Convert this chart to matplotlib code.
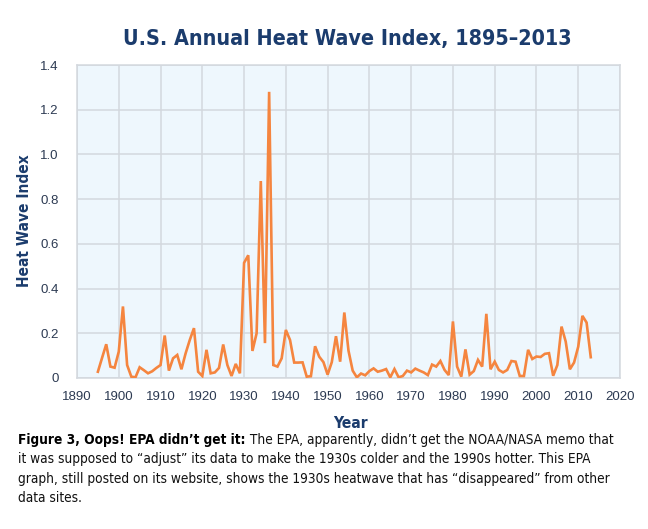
import matplotlib
matplotlib.use("Agg")
import matplotlib.pyplot as plt
from matplotlib import font_manager as fm

years = list(range(1895, 2014))
heat_wave_index = [
    0.028, 0.090, 0.151, 0.051, 0.046,            # 1895-1899
    0.118, 0.320, 0.058, 0.006, 0.003,            # 1900-1904
    0.048, 0.035, 0.021, 0.030, 0.045,            # 1905-1909
    0.058, 0.190, 0.033, 0.088, 0.103,            # 1910-1914
    0.039, 0.110, 0.170, 0.223, 0.028,            # 1915-1919
    0.009, 0.126, 0.021, 0.025, 0.045,            # 1920-1924
    0.150, 0.058, 0.009, 0.063, 0.021,            # 1925-1929
    0.515, 0.549, 0.121, 0.200, 0.881,            # 1930-1934
    0.156, 1.280, 0.058, 0.051, 0.088,            # 1935-1939
    0.215, 0.170, 0.069, 0.069, 0.070,            # 1940-1944
    0.006, 0.008, 0.142, 0.095, 0.071,            # 1945-1949
    0.015, 0.071, 0.187, 0.073, 0.293,            # 1950-1954
    0.122, 0.033, 0.003, 0.020, 0.012,            # 1955-1959
    0.031, 0.043, 0.028, 0.033, 0.040,            # 1960-1964
    0.003, 0.040, 0.003, 0.009, 0.033,            # 1965-1969
    0.025, 0.042, 0.033, 0.025, 0.013,            # 1970-1974
    0.060, 0.051, 0.076, 0.036, 0.013,            # 1975-1979
    0.253, 0.051, 0.006, 0.128, 0.015,            # 1980-1984
    0.031, 0.081, 0.051, 0.287, 0.039,            # 1985-1989
    0.073, 0.036, 0.025, 0.036, 0.076,            # 1990-1994
    0.073, 0.009, 0.009, 0.126, 0.085,            # 1995-1999
    0.096, 0.094, 0.108, 0.111, 0.010,            # 2000-2004
    0.058, 0.230, 0.163, 0.039, 0.069,            # 2005-2009
    0.140, 0.278, 0.248, 0.093,                   # 2010-2013
]
x_ticks = list(range(1890, 2021, 10))
y_ticks = [0, 0.2, 0.4, 0.6, 0.8, 1.0, 1.2, 1.4]
y_tick_labels = ["0", "0.2", "0.4", "0.6", "0.8", "1.0", "1.2", "1.4"]

title = "U.S. Annual Heat Wave Index, 1895\u20132013"
caption_bold = "Figure 3, Oops! EPA didn\u2019t get it:"
caption_rest_first = " The EPA, apparently, didn\u2019t get the NOAA/NASA memo that"
caption_lines = [
    "it was supposed to \u201cadjust\u201d its data to make the 1930s colder and the 1990s hotter. This EPA",
    "graph, still posted on its website, shows the 1930s heatwave that has \u201cdisappeared\u201d from other",
    "data sites.",
]

# pick a condensed face if one is installed
cond = None
for f in fm.fontManager.ttflist:
    if ("Narrow" in f.name or "Condensed" in f.name or
            (isinstance(f.stretch, str) and "condensed" in f.stretch) or
            (isinstance(f.stretch, int) and f.stretch < 500)):
        cond = f.name
        break
if cond:
    caption_family = [cond, "Liberation Sans", "DejaVu Sans"]
    stretch = "condensed"
else:
    caption_family = ["Liberation Sans", "DejaVu Sans"]
    stretch = "normal"

navy = "#1b3c6d"
tick_color = "#2c3a52"

W, H = 648, 529
fig = plt.figure(figsize=(W / 100, H / 100), dpi=100)
fig.patch.set_facecolor("white")
ax = fig.add_axes([77 / W, 1 - 378 / H, (620 - 77) / W, (378 - 65) / H])
ax.set_facecolor("#eef7fd")

ax.plot(years, heat_wave_index, color="#f5853f", lw=1.9, solid_joinstyle="miter", zorder=3)

ax.set_xlim(1890, 2020)
ax.set_ylim(0, 1.4)
ax.set_xticks(x_ticks)
ax.set_xticklabels([str(t) for t in x_ticks])
ax.set_yticks(y_ticks)
ax.set_yticklabels(y_tick_labels)
ax.grid(True, color="#d3d8de", lw=1.1, zorder=1)
ax.set_axisbelow(True)
for s in ax.spines.values():
    s.set_color("#d3d8de")
    s.set_linewidth(1.1)
ax.tick_params(length=0, labelsize=9, colors=tick_color, pad=9)
ax.tick_params(axis="y", pad=13)
for lab in ax.get_xticklabels() + ax.get_yticklabels():
    lab.set_family("Liberation Sans")
    lab.set_fontsize(9.5)

renderer = fig.canvas.get_renderer()


def fit(txt, target, horizontal=True):
    bb = txt.get_window_extent(renderer)
    size = bb.width if horizontal else bb.height
    txt.set_fontsize(txt.get_fontsize() * target / size)


t_title = fig.text(347 / W, 1 - 39 / H, title, ha="center", va="center",
                   fontsize=17, fontweight="bold", color=navy,
                   family=caption_family, fontstretch=stretch)
fit(t_title, 447)
t_ylab = fig.text(25 / W, 1 - 221 / H, "Heat Wave Index", rotation=90, ha="center", va="center",
                  fontsize=11, fontweight="bold", color=navy, family=caption_family,
                  fontstretch=stretch)
fit(t_ylab, 132, horizontal=False)
t_x = fig.text(350 / W, 1 - 424 / H, "Year", ha="center", va="center",
               fontsize=11.5, fontweight="bold", color=navy, family=caption_family,
               fontstretch=stretch)
fit(t_x, 35)

cap_x = 18 / W
line_y = [440, 459.5, 479, 498.5]
# size caption so that the longest line spans the reference width
probe = fig.text(cap_x, 0.5, caption_lines[1], fontsize=11.5, family=caption_family,
                 fontstretch=stretch)
pw = probe.get_window_extent(renderer).width
cap_size = 11.5 * 594 / pw
probe.remove()

t_bold = fig.text(cap_x, 1 - line_y[0] / H, caption_bold, ha="left", va="center",
                  fontsize=cap_size, fontweight="bold", color="black", family=caption_family,
                  fontstretch=stretch)
bb = t_bold.get_window_extent(renderer)
fig.text(bb.x1 / W, 1 - line_y[0] / H, caption_rest_first, ha="left", va="center",
         fontsize=cap_size, color="#111111", family=caption_family, fontstretch=stretch)
for ln, yy in zip(caption_lines, line_y[1:]):
    fig.text(cap_x, 1 - yy / H, ln, ha="left", va="center",
             fontsize=cap_size, color="#111111", family=caption_family, fontstretch=stretch)

fig.savefig("out.png", dpi=100)
